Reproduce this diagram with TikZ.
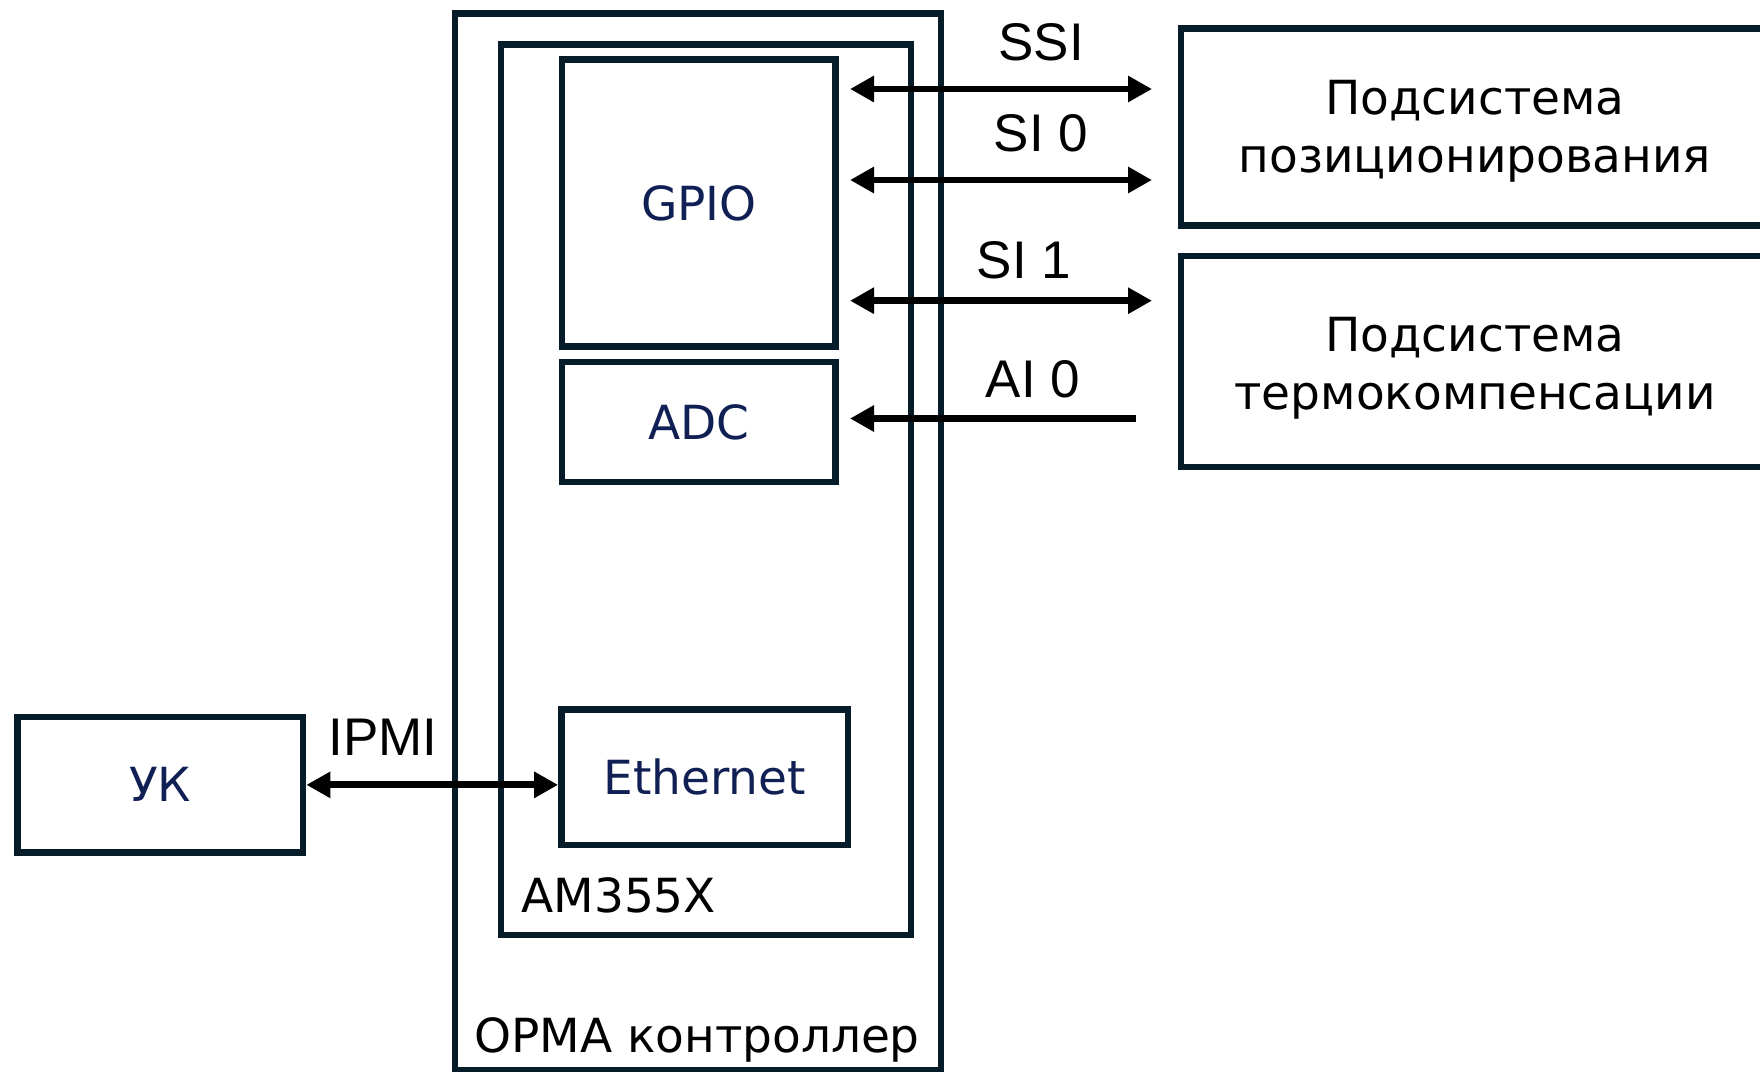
\documentclass[tikz,border=0pt]{standalone}
\usepackage{fontspec}
\setmainfont{DejaVu Sans}
\newfontfamily\lblfont{Liberation Sans}
\usetikzlibrary{arrows.meta,shadows}
\definecolor{boxc}{RGB}{6,28,40}
\definecolor{navy}{RGB}{16,32,84}
\begin{document}
\begin{tikzpicture}[x=0.5pt,y=-0.5pt,
  blk/.style={draw=boxc, line width=3.4pt, fill=white, inner sep=0pt,
    font=\fontsize{23.5}{29}\selectfont, align=center,
    drop shadow={shadow xshift=0.8pt,shadow yshift=-1.4pt,fill=black!35,opacity=0.45}},
  intxt/.style={font=\fontsize{23.5}{29}\selectfont, inner sep=0pt, text=black},
  lbl/.style={font=\lblfont\fontsize{26.5}{30}\selectfont, inner sep=0pt, anchor=base},
  arr/.style={line width=3.4pt, black, >={Triangle[length=12pt,width=12.5pt]}}
]
\path[use as bounding box, fill=white] (0,0) rectangle (1760,1071);

% containers
\node[blk, minimum width=243pt, minimum height=528.15pt] (opma) at (698,541.85) {};
\node[blk, minimum width=205pt, minimum height=445.25pt] (am) at (706,489.75) {};
% inner blocks
\node[blk, text=navy, minimum width=136.85pt, minimum height=143.3pt] (gpio) at (698.85,203) {GPIO};
\node[blk, text=navy, minimum width=136.85pt, minimum height=60pt] (adc) at (698.85,422) {ADC};
\node[blk, text=navy, minimum width=143.25pt, minimum height=67.65pt] (eth) at (704.75,777.35) {Ethernet};
% external blocks
\node[blk, text=navy, minimum width=142.75pt, minimum height=67.85pt] (uk) at (160.25,784.85) {УК};
\node[blk, minimum width=294pt, minimum height=98.35pt] (pos) at (1475,127.15) {};
\node[blk, minimum width=294pt, minimum height=105.5pt] (therm) at (1475,361.5) {};
\node[intxt, align=center] (postxt) at ([yshift=-2.2pt]pos.center) {Подсистема\\позиционирования};
\node[intxt, align=center] (thermtxt) at ([yshift=-3.2pt]therm.center) {Подсистема\\термокомпенсации};

% container labels
\node[intxt, anchor=base west] (amlbl) at (521,912) {AM355X};
\node[intxt, anchor=base] (opmalbl) at (697,1052) {OPMA контроллер};

% connector end points
\coordinate (ssiA) at (850,89);   \coordinate (ssiB) at (1152,89);
\coordinate (si0A) at (850,180);  \coordinate (si0B) at (1152,180);
\coordinate (si1A) at (850,300.7);\coordinate (si1B) at (1152,300.7);
\coordinate (ai0A) at (850,418.5);\coordinate (ai0B) at (1136,418.5);

\draw[arr,<->] (ssiA) -- (ssiB);
\draw[arr,<->] (si0A) -- (si0B);
\draw[arr,<->] (si1A) -- (si1B);
\draw[arr,<-] (ai0A) -- (ai0B);
\draw[arr,<->] (uk.east) -- (uk.east -| eth.west);

% connector labels
\node[lbl] (lssi) at (1041,60) {SSI};
\node[lbl] (lsi0) at (1041,151) {SI 0};
\node[lbl] (lsi1) at (1024,278.5) {SI 1};
\node[lbl] (lai0) at (1033,397) {AI 0};
\node[lbl] (lipmi) at (383,755) {IPMI};
\end{tikzpicture}
\end{document}
